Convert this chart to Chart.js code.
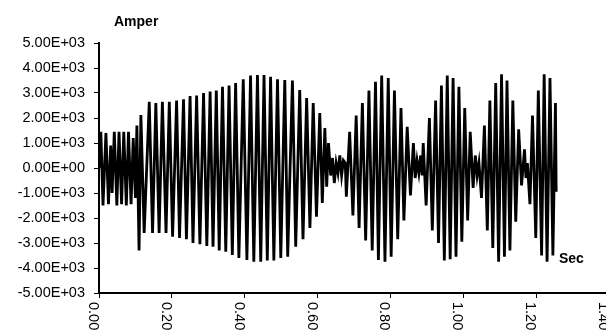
<!DOCTYPE html>
<html>
<head>
<meta charset="utf-8">
<script src="https://cdn.jsdelivr.net/npm/chart.js@4"></script>
<style>
html, body { margin:0; padding:0; background:#fff; overflow:hidden; }
#wrap { width:606px; height:336px; overflow:hidden; }
</style>
</head>
<body>
<div id="wrap"><canvas id="current-chart" width="620" height="336"></canvas></div>
<script>
// time (s) and current (A), peak by peak
let time_sec = [
    0.000, 0.005, 0.011, 0.019, 0.026, 0.032, 0.036, 0.042, 0.049, 0.055, 0.062, 0.068, 0.075, 0.081, 0.088, 0.094, 0.100, 0.104, 0.110,
    0.115, 0.124, 0.138, 0.147, 0.156, 0.165, 0.174, 0.184, 0.193, 0.202, 0.213, 0.221, 0.232, 0.240, 0.250, 0.258, 0.268, 0.277, 0.287, 0.296,
    0.305, 0.313, 0.322, 0.330, 0.339, 0.348, 0.357, 0.366, 0.375, 0.384, 0.396, 0.406, 0.416, 0.425, 0.435, 0.444, 0.453, 0.462, 0.471, 0.480,
    0.490, 0.499, 0.510, 0.518, 0.531, 0.540, 0.551, 0.560, 0.570, 0.579, 0.588, 0.597, 0.606, 0.613, 0.620, 0.625, 0.630,
    0.636, 0.641, 0.646, 0.651, 0.656, 0.661, 0.666, 0.671, 0.676,
    0.679, 0.688, 0.697, 0.706, 0.714, 0.723, 0.732, 0.741, 0.750, 0.759, 0.767, 0.776, 0.785, 0.794, 0.802, 0.811, 0.820, 0.829, 0.837, 0.846, 0.855, 0.863,
    0.868, 0.873, 0.878, 0.883, 0.887,
    0.890, 0.898, 0.907, 0.915, 0.924, 0.932, 0.940, 0.948, 0.956, 0.964, 0.972, 0.980, 0.988, 0.996, 1.004, 1.012, 1.019, 1.027,
    1.033, 1.038, 1.043,
    1.050, 1.058, 1.066, 1.073, 1.081, 1.089, 1.097, 1.105, 1.113, 1.120, 1.128, 1.136, 1.144, 1.152, 1.160, 1.168,
    1.172, 1.176,
    1.183, 1.190, 1.199, 1.206, 1.215, 1.222, 1.230, 1.238, 1.246, 1.253, 1.255
];
let current_amp = [
    0, 1450, -1500, 1400, -1450, 900, -1000, 1450, -1500, 1450, -1450, 1450, -1500, 1450, -1450, 1200, -1200, 1700, -3300,
    2120, -2600, 2650, -2600, 2600, -2600, 2650, -2600, 2650, -2750, 2700, -2800, 2750, -2850, 2880, -3000, 2900, -3050, 3000, -3120,
    3060, -3150, 3100, -3300, 3250, -3350, 3300, -3480, 3400, -3600, 3550, -3680, 3700, -3750, 3720, -3750, 3720, -3700, 3650, -3700,
    3550, -3600, 3520, -3550, 3500, -3150, 3120, -2850, 2800, -2400, 2600, -1950, 2200, -1400, 1600, -750, 1000,
    -300, 400, -600, 200, -200, 500, -300, 300, 200,
    -1150, 1450, -1900, 2100, -2400, 2600, -2900, 3100, -3300, 3450, -3680, 3700, -3750, 3600, -3550, 3100, -2850, 2400, -2100, 1650, -1100, 1000,
    -400, 300, -200, 500, -300,
    1000, -1500, 2000, -2500, 2700, -3000, 3300, -3700, 3700, -3650, 3600, -3550, 3250, -2950, 2400, -2100, 1450, -800,
    500, -300, 200,
    -1200, 1700, -2500, 2700, -3200, 3400, -3750, 3750, -3550, 3500, -3300, 2700, -2150, 1550, -700, 750,
    -400, 200,
    -1450, 2100, -2800, 3100, -3500, 3750, -3750, 3600, -3500, 2600, -950
];
let x_ticks = [0, 0.2, 0.4, 0.6, 0.8, 1.0, 1.2, 1.4];
let y_min = -5000;
let y_max = 5000;
let y_step = 1000;
let y_title = "Amper";
let x_title = "Sec";

let font_family = "'Liberation Sans', Arial, sans-serif";
let tick_font = "14.5px " + font_family;
let title_font = "bold 14px " + font_family;

function excel_sci(v){
    let parts = Number(v).toExponential(2).split("e");
    let exp = parseInt(parts[1], 10);
    let sign = exp < 0 ? "-" : "+";
    let digits = String(Math.abs(exp)).padStart(2, "0");
    return parts[0] + "E" + sign + digits;
}

// x labels run top-down (rotated clockwise), plus the two axis titles
let extra_text = {
    id: "extra_text",
    afterDraw(chart){
        let ctx = chart.ctx;
        let x = chart.scales.x;
        let bottom = chart.chartArea.bottom;
        ctx.save();
        ctx.fillStyle = "#000";
        ctx.font = tick_font;
        ctx.textAlign = "left";
        ctx.textBaseline = "alphabetic";
        x_ticks.forEach((v)=>{
            let px = x.getPixelForValue(v);
            ctx.save();
            ctx.translate(px - 10, bottom + 9);
            ctx.rotate(Math.PI / 2);
            ctx.fillText(v.toFixed(2), 0, 0);
            ctx.restore();
        });
        ctx.font = title_font;
        ctx.textBaseline = "middle";
        ctx.fillText(y_title, 114, 22);
        ctx.fillText(x_title, 559, 259);
        ctx.restore();
    }
};

function set_up_chart(){
    let points = time_sec.map((t, i)=>({x: t, y: current_amp[i]}));
    let canvas = document.querySelector("#current-chart");
    new Chart(canvas, {
        type: "line",
        data: {
            datasets: [{
                data: points,
                borderColor: "#000",
                borderWidth: 2.8,
                pointRadius: 0,
                tension: 0,
                fill: false
            }]
        },
        options: {
            responsive: false,
            animation: false,
            events: [],
            layout: { padding: { top: 43, right: 11, bottom: 0, left: 0 } },
            plugins: { legend: { display: false }, tooltip: { enabled: false } },
            scales: {
                x: {
                    type: "linear",
                    min: 0,
                    max: 1.4,
                    ticks: { stepSize: 0.2, display: false },
                    grid: { drawOnChartArea: false, drawTicks: true, tickLength: 5, color: "#000", lineWidth: 1 },
                    border: { color: "#000", width: 2 },
                    afterFit: (s)=>{ s.height = 43; }
                },
                y: {
                    min: y_min,
                    max: y_max,
                    ticks: {
                        stepSize: y_step,
                        color: "#000",
                        font: { family: font_family, size: 14.5 },
                        padding: 9,
                        callback: (v)=>excel_sci(v)
                    },
                    grid: { drawOnChartArea: false, drawTicks: true, tickLength: 5, color: "#000", lineWidth: 1 },
                    border: { color: "#000", width: 2 },
                    afterFit: (s)=>{ s.width = 99; }
                }
            }
        },
        plugins: [extra_text]
    });
}

set_up_chart()
</script>
</body>
</html>
